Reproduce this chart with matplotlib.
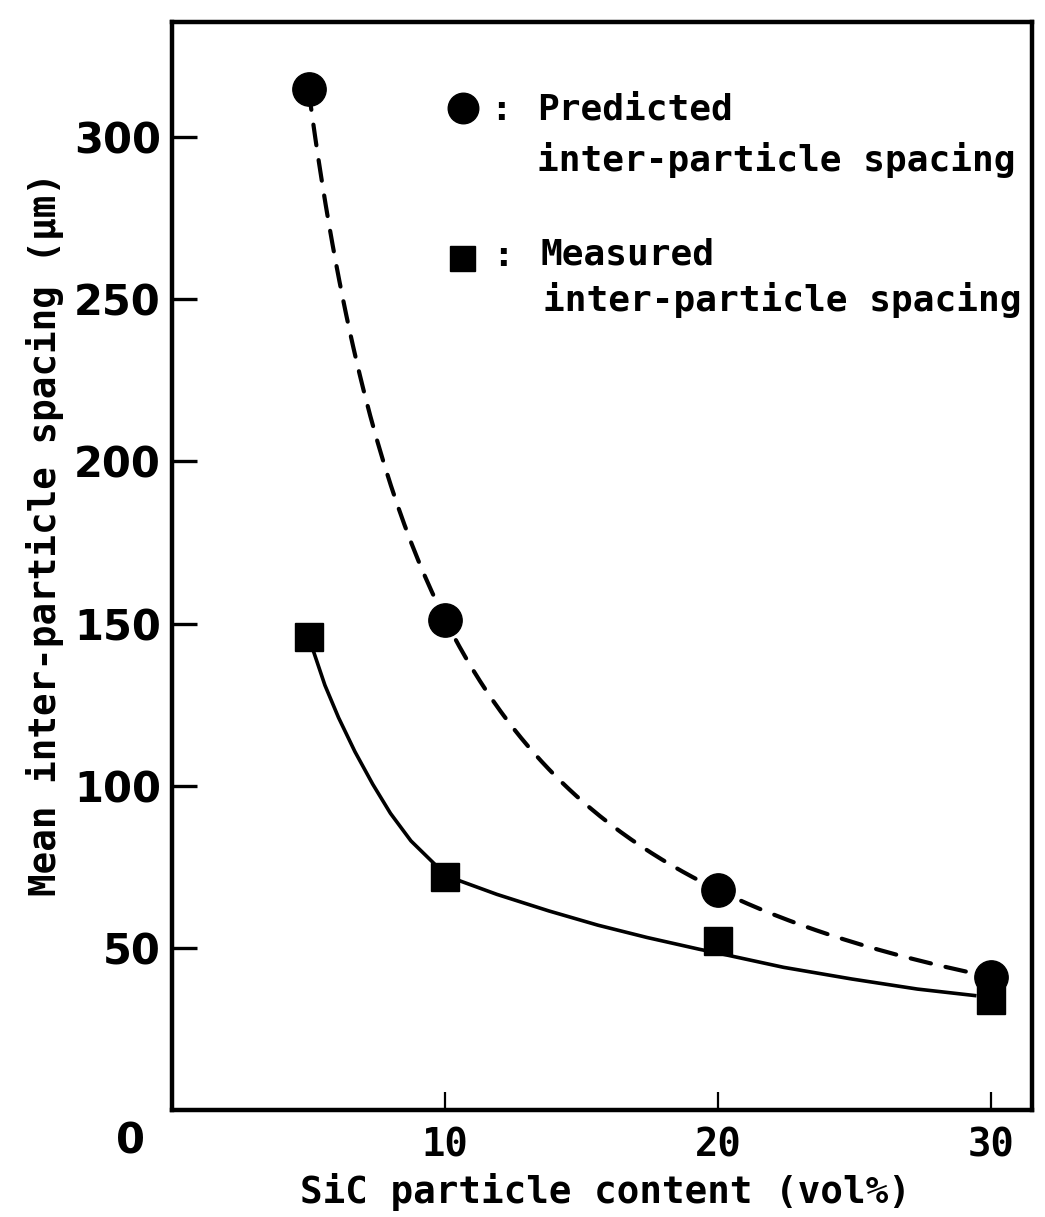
import numpy as np
import matplotlib
matplotlib.use("Agg")
import matplotlib.pyplot as plt

# SiC content (vol%) and mean inter-particle spacing (um)
sic_content = [5, 10, 20, 30]
predicted_spacing = [315, 151, 68, 41]
measured_spacing = [146, 72, 52, 34]

# hand-drawn trend line through the measured values
measured_trend_x = [5.0, 5.2, 5.6, 6.1, 6.7, 7.35, 8.0, 8.75, 9.6, 10.0, 10.5,
                    11.9, 13.8, 15.6, 17.4, 19.3, 20.1, 22.4, 24.9, 27.3, 29.4]
measured_trend_y = [146, 141, 131, 121, 110.5, 100.5, 91.5, 83, 76, 72.5, 70.8,
                    66.5, 61.4, 57, 53.2, 49.6, 48.2, 44.0, 40.4, 37.3, 35.3]

x_ticks = [10, 20, 30]
y_ticks = [50, 100, 150, 200, 250, 300]

MONO = "DejaVu Sans Mono"
SANS = "DejaVu Sans"


def smooth_fit(x, y, n=200):
    """Quadratic fit in log-log space, sampled finely for a smooth curve."""
    lx, ly = np.log(x), np.log(y)
    coef = np.polyfit(lx, ly, 2)
    xs = np.linspace(min(x), max(x), n)
    return xs, np.exp(np.polyval(coef, np.log(xs)))


fig = plt.figure(figsize=(10.45, 12.17), dpi=100)
ax = fig.add_axes([0.1646, 0.0879, 0.8230, 0.894])

xs, ys = smooth_fit(sic_content, predicted_spacing)
ax.plot(xs, ys, color="black", lw=3, dashes=(5, 3.6), dash_capstyle="round")
ax.plot(measured_trend_x, measured_trend_y, color="black", lw=2.6,
        solid_joinstyle="round")

ax.plot(sic_content, predicted_spacing, "o", color="black", ms=24, zorder=3)
ax.plot(sic_content, measured_spacing, "s", color="black", ms=20, zorder=3)

ax.set_xlim(0, 31.5)
ax.set_ylim(0, 335.5)
for s in ax.spines.values():
    s.set_linewidth(3.2)

ax.set_xticks(x_ticks)
ax.set_xticklabels([str(v) for v in x_ticks], fontfamily=MONO, fontweight="bold", fontsize=28)
ax.set_yticks(y_ticks)
ax.set_yticklabels([str(v) for v in y_ticks], fontfamily=SANS, fontweight="bold", fontsize=30)
ax.tick_params(axis="x", direction="in", length=13, width=1.6, pad=12)
ax.tick_params(axis="y", direction="in", length=18, width=2.4, pad=8)

fig.text(130 / 1045, 1 - 1142 / 1217, "0", fontfamily=SANS, fontweight="bold",
         fontsize=30, ha="center", va="center")

fig.text(605 / 1045, 1 - 1192 / 1217, "SiC particle content (vol%)", fontfamily=MONO,
         fontweight="bold", fontsize=27, ha="center", va="center")
fig.text(45 / 1045, 1 - 534 / 1217, "Mean inter-particle spacing (\u03bcm)", fontfamily=MONO,
         fontweight="bold", fontsize=27, ha="center", va="center", rotation=90)

# key in the upper right
key_font = dict(fontfamily=MONO, fontweight="bold", fontsize=26, va="center",
                transform=fig.transFigure)
fx = lambda px: px / 1045
fy = lambda py: 1 - py / 1217
fig.lines.append(plt.Line2D([fx(463)], [fy(108)], marker="o", ms=22, color="black",
                            transform=fig.transFigure))
fig.lines.append(plt.Line2D([fx(462)], [fy(258)], marker="s", ms=18, color="black",
                            transform=fig.transFigure))
fig.text(fx(490), fy(110), ":", **key_font)
fig.text(fx(537), fy(110), "Predicted", **key_font)
fig.text(fx(537), fy(160), "inter-particle spacing", **key_font)
fig.text(fx(492), fy(256), ":", **key_font)
fig.text(fx(540), fy(254), "Measured", **key_font)
fig.text(fx(543), fy(300), "inter-particle spacing", **key_font)

fig.savefig("out.png", dpi=100)
